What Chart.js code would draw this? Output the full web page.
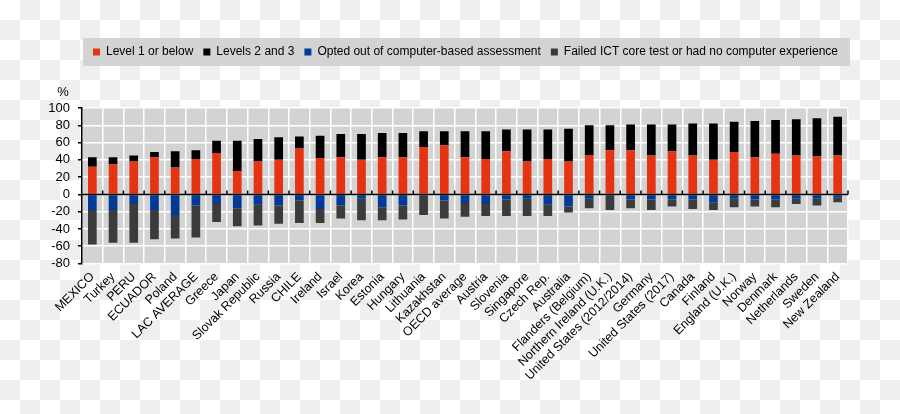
<!DOCTYPE html>
<html>
<head>
<meta charset="utf-8">
<title>Proficiency in problem solving in technology-rich environments</title>
<script src="https://cdn.jsdelivr.net/npm/chart.js@4.4.0/dist/chart.umd.min.js"></script>
<style>
  html, body { margin: 0; padding: 0; }
  body {
    width: 900px;
    height: 414px;
    background-color: #fff;
    background-image: conic-gradient(#efefef 25%, transparent 0 50%, #efefef 0 75%, transparent 0);
    background-size: 40px 40px;
  }
  #wrap { position: relative; width: 900px; height: 414px; }
</style>
</head>
<body>
<div id="wrap"><canvas id="chart"></canvas></div>
<script>
const countries = [
  "MEXICO", "Turkey", "PERU", "ECUADOR", "Poland", "LAC AVERAGE", "Greece", "Japan",
  "Slovak Republic", "Russia", "CHILE", "Ireland", "Israel", "Korea", "Estonia", "Hungary",
  "Lithuania", "Kazakhstan", "OECD average", "Austria", "Slovenia", "Singapore", "Czech Rep.",
  "Australia", "Flanders (Belgium)", "Northern Ireland (U.K.)", "United States (2012/2014)",
  "Germany", "United States (2017)", "Canada", "Finland", "England (U.K.)", "Norway",
  "Denmark", "Netherlands", "Sweden", "New Zealand"
];

// positive side: stacked up from 0
const level1 = [32, 35, 38, 43, 31, 41, 48, 27, 38, 40, 53, 42, 43, 40, 43, 43, 55, 57, 43,
  41, 50, 38, 41, 38, 45, 51, 51, 45, 50, 45, 40, 49, 43, 47, 45, 44, 45];
const level2and3 = [11, 8, 7, 6, 19, 10, 14, 35, 26, 26, 14, 26, 27, 30, 28, 28, 18, 16, 30,
  32, 25, 37, 34, 38, 35, 29, 30, 36, 31, 37, 42, 35, 42, 39, 42, 44, 45];

// negative side: stacked down from 0
const optedOut = [-18, -18, -11, -18, -24, -13, -11, -16, -12, -13, -7, -17, -13, -5, -15, -13, -2, -7, -10,
  -11, -6, -5, -12, -14, -5, -2, -6, -6, -6, -6, -9, -5, -6, -6, -5, -5, -4];
const failedIct = [-40, -38, -45, -34, -27, -37, -21, -21, -24, -21, -26, -16, -15, -25, -15, -16, -22, -21, -16,
  -14, -19, -20, -13, -7, -11, -16, -10, -12, -8, -11, -9, -10, -8, -9, -6, -8, -5];

const yMin = -80;
const yMax = 100;
const yStep = 20;

const FONT = "'Liberation Sans', Arial, sans-serif";
Chart.defaults.font.family = FONT;
Chart.defaults.font.size = 12;
Chart.defaults.color = '#000';

// grey panel behind the plot and behind the legend row
const plotBackground = {
  id: 'plotBackground',
  beforeDraw(chart) {
    const { ctx, chartArea: a, legend } = chart;
    ctx.save();
    ctx.fillStyle = '#d3d3d3';
    ctx.fillRect(a.left, a.top, a.right - a.left, a.bottom - a.top);
    ctx.fillRect(a.left + 1, legend.top + 2, a.right - a.left + 1, 28);
    ctx.restore();
  }
};

// black zero line with small ticks between the countries, plus the "%" unit
const zeroAxis = {
  id: 'zeroAxis',
  afterDatasetsDraw(chart) {
    const { ctx, scales: { x, y } } = chart;
    const y0 = y.getPixelForValue(0);
    const n = countries.length;
    ctx.save();
    ctx.strokeStyle = '#000';
    ctx.lineWidth = 1.5;
    ctx.beginPath();
    ctx.moveTo(x.left, y0);
    ctx.lineTo(x.right, y0);
    for (let i = 1; i <= n; i++) {
      const px = x.left + (x.right - x.left) * i / n;
      ctx.moveTo(px, y0);
      ctx.lineTo(px, y0 - 4);
    }
    ctx.stroke();
    ctx.fillStyle = '#000';
    ctx.font = '13px ' + FONT;
    ctx.textAlign = 'center';
    ctx.textBaseline = 'middle';
    ctx.fillText('%', x.left - 19, y.top - 16);
    ctx.restore();
  }
};

// leave room between legend row and the plot
const legendSpacing = {
  id: 'legendSpacing',
  beforeInit(chart) {
    const fit = chart.legend.fit;
    chart.legend.fit = function () {
      fit.call(this);
      this.height = 72;
    };
  }
};

new Chart(document.getElementById('chart'), {
  type: 'bar',
  data: {
    labels: countries,
    datasets: [
      { label: 'Level 1 or below', data: level1, backgroundColor: '#e63312' },
      { label: 'Levels 2 and 3', data: level2and3, backgroundColor: '#000000' },
      { label: 'Opted out of computer-based assessment', data: optedOut, backgroundColor: '#003a96' },
      { label: 'Failed ICT core test or had no computer experience', data: failedIct, backgroundColor: '#3b3b3b' }
    ]
  },
  options: {
    responsive: true,
    maintainAspectRatio: false,
    animation: false,
    barPercentage: 0.42,
    categoryPercentage: 1,
    layout: { padding: { left: 0, right: 52, top: 36, bottom: 0 } },
    plugins: {
      legend: {
        position: 'top',
        align: 'end',
        labels: {
          boxWidth: 7,
          boxHeight: 7,
          padding: 10,
          color: '#000',
          font: { size: 12 }
        }
      },
      tooltip: { enabled: false }
    },
    scales: {
      x: {
        stacked: true,
        afterFit(scale) { scale.height = 150.5; },
        border: { display: false },
        grid: { color: '#ffffff', lineWidth: 1.5, drawTicks: false },
        ticks: {
          autoSkip: false,
          maxRotation: 45,
          minRotation: 45,
          padding: 6,
          color: '#000',
          font: { size: 12.5 }
        }
      },
      y: {
        stacked: true,
        min: yMin,
        max: yMax,
        afterFit(scale) { scale.width = 82; },
        border: { display: true, color: '#000', width: 1.5 },
        grid: { color: '#ffffff', lineWidth: 1.5, tickColor: '#000', tickLength: 4 },
        ticks: { stepSize: yStep, autoSkip: false, padding: 8, color: '#000', font: { size: 13 } }
      }
    }
  },
  plugins: [plotBackground, zeroAxis, legendSpacing]
});
</script>
</body>
</html>
